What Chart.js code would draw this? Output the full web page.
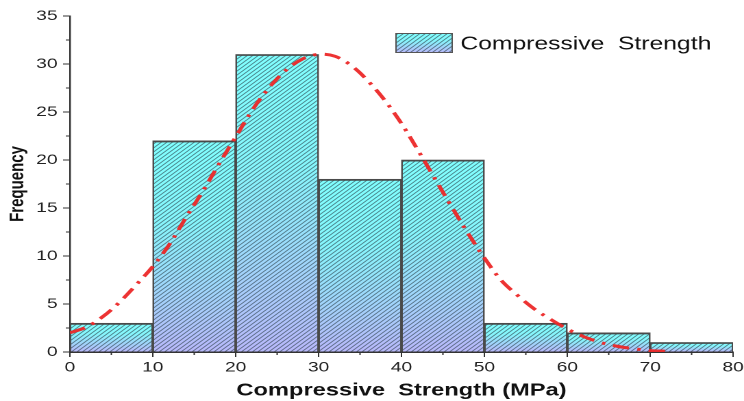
<!DOCTYPE html>
<html>
<head>
<meta charset="utf-8">
<script src="https://cdn.jsdelivr.net/npm/chart.js@4.4.1/dist/chart.umd.min.js"></script>
<style>
  html, body { margin: 0; padding: 0; background: #fff; overflow: hidden; }
  #wrap { position: absolute; left: 0; top: 0; width: 543px; height: 401px;
          transform-origin: 0 0; transform: scaleX(1.3702); }
  canvas { display: block; }
</style>
</head>
<body>
<div id="wrap"><canvas id="c" width="543" height="401" style="width:543px;height:401px"></canvas></div>
<script>
// ---- data ----
const binCenters = [5, 15, 25, 35, 45, 55, 65, 75];
const frequencies = [3, 22, 31, 18, 20, 3, 2, 1];
const fitX = [0, 2, 4, 6, 8, 10, 12, 14, 16, 18, 20, 22, 24, 26, 28, 30, 32, 34, 36,
              38, 40, 42, 44, 46, 48, 50, 52, 54, 56, 58, 60, 62, 64, 66, 68, 70, 72];
const fitY = [2.0, 2.6, 3.7, 5.2, 7.0, 8.9, 11.2, 14.0, 16.7, 19.6, 22.4, 25.2, 27.5, 29.3,
              30.5, 31.0, 30.8, 29.8, 28.2, 26.2, 23.8, 21.0, 18.1, 15.2, 12.4, 9.8, 7.5,
              5.9, 4.5, 3.4, 2.4, 1.6, 1.0, 0.6, 0.35, 0.15, 0.08];
const xTicks = [0, 10, 20, 30, 40, 50, 60, 70, 80];
const yTicks = [0, 5, 10, 15, 20, 25, 30, 35];
const seriesName = 'Compressive  Strength';
const xTitle = 'Compressive  Strength (MPa)';
const yTitle = 'Frequency';

const FONT = "'Liberation Sans', Arial, sans-serif";

// hatch pattern
const tile = document.createElement('canvas');
tile.width = 8; tile.height = 8;
const tc = tile.getContext('2d');
tc.strokeStyle = 'rgba(40,60,70,0.68)';
tc.lineWidth = 1.5;
tc.beginPath();
tc.moveTo(-1, 9); tc.lineTo(9, -1);
tc.moveTo(-1, 1); tc.lineTo(1, -1);
tc.moveTo(7, 9); tc.lineTo(9, 7);
tc.stroke();

let hatch = null;
function getHatch(ctx) {
  if (!hatch) {
    hatch = ctx.createPattern(tile, 'repeat');
    try { hatch.setTransform(new DOMMatrix().scale(0.5)); } catch (e) {}
  }
  return hatch;
}
function fillBarRect(ctx, l, t, w, h) {
  const g = ctx.createLinearGradient(0, t, 0, t + h);
  g.addColorStop(0, '#80ffff');
  g.addColorStop(0.38, '#86f6fc');
  g.addColorStop(1, '#b8b8fa');
  ctx.fillStyle = g;
  ctx.fillRect(l, t, w, h);
  ctx.fillStyle = getHatch(ctx);
  ctx.fillRect(l, t, w, h);
}

const decor = {
  id: 'decor',
  beforeDatasetDraw(chart, args) {
    if (args.index !== 0) return;
    const ctx = chart.ctx;
    ctx.save();
    args.meta.data.forEach(el => {
      const p = el.getProps(['x', 'y', 'base', 'width'], true);
      const t = Math.min(p.y, p.base), h = Math.abs(p.base - p.y);
      fillBarRect(ctx, p.x - p.width / 2, t, p.width, h);
    });
    ctx.restore();
  },
  afterDraw(chart) {
    const ctx = chart.ctx;
    const xs = chart.scales.x, ys = chart.scales.y;
    const a = chart.chartArea;
    ctx.save();
    ctx.strokeStyle = '#333';
    ctx.lineWidth = 1;
    ctx.beginPath();
    for (let i = 0; i < yTicks.length - 1; i++) {
      const v = (yTicks[i] + yTicks[i + 1]) / 2;
      const py = ys.getPixelForValue(v);
      ctx.moveTo(a.left - 3, py); ctx.lineTo(a.left, py);
    }
    for (let i = 0; i < xTicks.length - 1; i++) {
      const v = (xTicks[i] + xTicks[i + 1]) / 2;
      const px = xs.getPixelForValue(v);
      ctx.moveTo(px, a.bottom); ctx.lineTo(px, a.bottom + 3);
    }
    ctx.stroke();
    // legend
    const bx = 289, by = 33.5, bw = 41, bh = 19;
    fillBarRect(ctx, bx, by, bw, bh);
    ctx.strokeStyle = '#555';
    ctx.lineWidth = 1;
    ctx.strokeRect(bx, by, bw, bh);
    ctx.fillStyle = '#111';
    ctx.font = '18px ' + FONT;
    ctx.textBaseline = 'alphabetic';
    ctx.textAlign = 'left';
    ctx.fillText(seriesName, 336, 49.5);
    ctx.restore();
  }
};

new Chart(document.getElementById('c'), {
  type: 'bar',
  data: {
    datasets: [
      {
        type: 'bar',
        label: seriesName,
        data: binCenters.map((x, i) => ({ x: x, y: frequencies[i] })),
        backgroundColor: 'rgba(0,0,0,0)',
        borderColor: '#4a4a4a',
        borderWidth: { top: 1.2, left: 0.65, right: 0.65, bottom: 0 },
        borderSkipped: false,
        barPercentage: 1,
        categoryPercentage: 1,
        order: 2
      },
      {
        type: 'line',
        label: 'Normal fit',
        data: fitX.map((x, i) => ({ x: x, y: fitY[i] })),
        borderColor: 'rgba(236,40,40,0.95)',
        borderWidth: 3,
        borderDash: [12, 6, 2.5, 6],
        pointRadius: 0,
        tension: 0.35,
        fill: false,
        order: 1
      }
    ]
  },
  options: {
    responsive: false,
    animation: false,
    devicePixelRatio: 2,
    layout: { padding: { top: 16, right: 8, left: 0, bottom: 0 } },
    plugins: { legend: { display: false }, tooltip: { enabled: false } },
    scales: {
      x: {
        type: 'linear',
        min: 0, max: 80,
        offset: false,
        afterFit(s) { s.height = 49; s.paddingRight = 0; s.paddingLeft = 0; },
        afterBuildTicks(s) { s.ticks = xTicks.map(v => ({ value: v })); },
        ticks: { color: '#222', font: { family: FONT, size: 14 }, padding: 2, maxRotation: 0 },
        grid: { display: true, offset: false, drawOnChartArea: false, drawTicks: true,
                tickLength: 5, tickColor: '#333', tickWidth: 1 },
        border: { display: true, color: '#333', width: 1.5 },
        title: { display: true, text: xTitle, color: '#111',
                 font: { family: FONT, size: 17.3, weight: 'bold' }, padding: { top: 0, bottom: 0 } }
      },
      y: {
        type: 'linear',
        min: 0, max: 35,
        afterFit(s) { s.width = 51; },
        afterBuildTicks(s) { s.ticks = yTicks.map(v => ({ value: v })); },
        ticks: { color: '#222', font: { family: FONT, size: 14 }, padding: 4 },
        grid: { display: true, drawOnChartArea: false, drawTicks: true,
                tickLength: 5, tickColor: '#333', tickWidth: 1 },
        border: { display: true, color: '#333', width: 1.2 },
        title: { display: true, text: yTitle, color: '#111',
                 font: { family: FONT, size: 15, weight: 'bold' }, padding: { top: 4, bottom: 0 } }
      }
    }
  },
  plugins: [decor]
});
</script>
</body>
</html>
